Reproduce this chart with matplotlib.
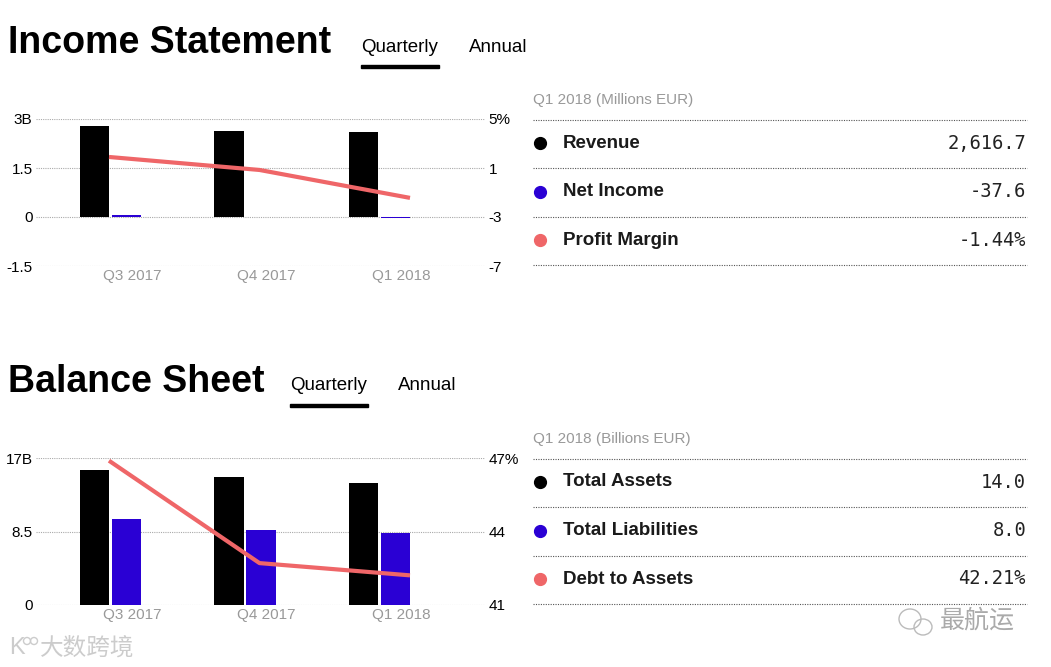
import numpy as np
import matplotlib
matplotlib.use("Agg")
import matplotlib.pyplot as plt
from matplotlib.patches import Rectangle, Ellipse
from matplotlib.lines import Line2D

plt.rcParams['font.family'] = ['Liberation Sans', 'Noto Sans CJK SC', 'DejaVu Sans']

# ---- data ----
quarters = ["Q3 2017", "Q4 2017", "Q1 2018"]

revenue = [2.79, 2.63, 2.6167]          # B EUR
net_income = [0.05, 0.006, -0.0376]     # B EUR
profit_margin = [1.9, 0.84, -1.44]      # %

total_assets = [15.65, 14.75, 14.15]     # B EUR
total_liab = [9.9, 8.65, 8.3]           # B EUR
debt_to_assets = [46.89, 42.71, 42.21]  # %

inc_left_ticks = [-1.5, 0, 1.5, 3]
inc_left_labels = ["-1.5", "0", "1.5", "3B"]
inc_right_ticks = [-7, -3, 1, 5]
inc_right_labels = ["-7", "-3", "1", "5%"]

bal_left_ticks = [0, 8.5, 17]
bal_left_labels = ["0", "8.5", "17B"]
bal_right_ticks = [41, 44, 47]
bal_right_labels = ["41", "44", "47%"]

inc_rows = ["Revenue", "Net Income", "Profit Margin"]
inc_vals = ["2,616.7", "-37.6", "-1.44%"]
bal_rows = ["Total Assets", "Total Liabilities", "Debt to Assets"]
bal_vals = ["14.0", "8.0", "42.21%"]

BLACK = "#000000"
BLUE = "#2a00d4"
CORAL = "#ef6668"
GRAY = "#999999"

W, H = 1051, 667
fig = plt.figure(figsize=(W / 100, H / 100), dpi=100)


def rect(l, t, r, b):
    return [l / W, 1 - b / H, (r - l) / W, (b - t) / H]


def ftext(x, y, s, **kw):
    fig.text(x / W, 1 - y / H, s, **kw)


def ring(x, y, w, h, c="#bbbbbb"):
    fig.patches.append(Ellipse((x / W, 1 - y / H), w / W, h / H, transform=fig.transFigure,
                               fill=False, edgecolor=c, linewidth=1))


def chart(top, bottom, a, b, line, lt, ll, rt, rl):
    # bar axes: group centers at 0,1,2 (px 110.5, 245, 379.5)
    ax = fig.add_axes(rect(36, top, 485, bottom))
    sp = 134.5
    ax.set_xlim(-(110.5 - 36) / sp, (485 - 110.5) / sp)
    ax.set_ylim(lt[0], lt[-1])
    x = np.arange(len(quarters))
    ax.bar(x - 0.119, a, width=0.216, color=BLACK, zorder=3)
    ax.bar(x + 0.119, b, width=0.216, color=BLUE, zorder=3)
    ax.set_yticks(lt)
    ax.set_yticklabels(ll, fontsize=11)
    ax.set_xticks(x + 0.16)
    ax.set_xticklabels(quarters, fontsize=11, color=GRAY)
    ax.tick_params(length=0, pad=2.5)
    ax.tick_params(axis='x', pad=2.5)
    ax.grid(axis='y', linestyle=(0, (1, 1)), color="#aaaaaa", linewidth=0.8, zorder=0)
    for s in ax.spines.values():
        s.set_visible(False)

    ax2 = ax.twinx()
    ax2.set_ylim(rt[0], rt[-1])
    ax2.set_yticks(rt)
    ax2.set_yticklabels(rl, fontsize=11)
    ax2.tick_params(length=0, pad=2.5)
    for s in ax2.spines.values():
        s.set_visible(False)

    # line axes: points at px 109, 259.5, 410
    axl = fig.add_axes(rect(36, top, 485, bottom))
    lsp = 150.5
    axl.set_xlim(-(109 - 36) / lsp, (485 - 109) / lsp)
    axl.set_ylim(rt[0], rt[-1])
    axl.plot(x, line, color=CORAL, linewidth=3, solid_capstyle='butt', zorder=5)
    axl.axis('off')
    axl.patch.set_alpha(0)


def header(y, title, tab_x, title_size):
    ftext(8, y, title, fontsize=title_size, fontweight='bold', va='center')
    ftext(tab_x, y + 4, "Quarterly", fontsize=13.5, va='center')
    ftext(tab_x + 108, y + 4, "Annual", fontsize=13.5, va='center')
    fig.patches.append(Rectangle((tab_x / W, 1 - (y + 25) / H), 78 / W, 3 / H,
                                 transform=fig.transFigure, color=BLACK))


def table(top, subtitle, rows, vals):
    ftext(533, top, subtitle, fontsize=11, color=GRAY, va='center')
    colors = [BLACK, BLUE, CORAL]
    for i in range(4):
        yy = top + 20 + i * 48.3
        fig.add_artist(Line2D([533 / W, 1027 / W], [1 - yy / H, 1 - yy / H],
                              transform=fig.transFigure, color="#555555",
                              linestyle=(0, (1, 1.2)), linewidth=0.8))
    for i, (r, v) in enumerate(zip(rows, vals)):
        yy = top + 43 + i * 48.5
        fig.add_artist(Line2D([540 / W], [1 - yy / H], transform=fig.transFigure,
                              marker='o', markersize=8.5, color=colors[i], linestyle='none'))
        ftext(563, yy, r, fontsize=13.5, fontweight='bold', va='center', color="#1a1a1a")
        ftext(1026, yy, v, fontsize=13.5, va='center', ha='right',
              family='DejaVu Sans Mono', color="#222222")


header(43, "Income Statement", 361, 27)
chart(119, 266, revenue, net_income, profit_margin,
      inc_left_ticks, inc_left_labels, inc_right_ticks, inc_right_labels)
table(100, "Q1 2018 (Millions EUR)", inc_rows, inc_vals)

header(382, "Balance Sheet", 290, 27)
chart(458, 605, total_assets, total_liab, debt_to_assets,
      bal_left_ticks, bal_left_labels, bal_right_ticks, bal_right_labels)
table(439, "Q1 2018 (Billions EUR)", bal_rows, bal_vals)

# watermarks
ftext(9, 648, "K", fontsize=17, color="#cccccc", va='center')
ring(27, 641, 7, 7, "#cccccc")
ring(34, 641, 7, 7, "#cccccc")
ftext(40, 648, "大数跨境", fontsize=17, color="#cccccc", va='center',
      family=['Noto Sans CJK SC'])
ring(910, 619, 22, 20)
ring(923, 627, 18, 16)
ftext(940, 621, "最航运", fontsize=18, color="#aaaaaa", va='center',
      family=['Noto Sans CJK SC'])

fig.savefig("out.png", dpi=100)
